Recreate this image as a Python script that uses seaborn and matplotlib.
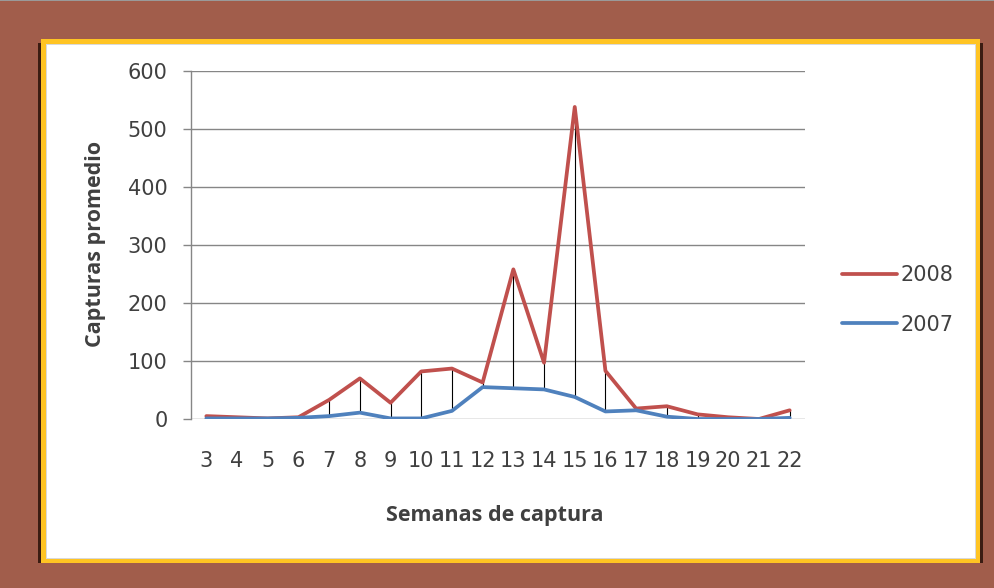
import numpy as np
import pandas as pd

import matplotlib as mpl
mpl.use('Agg')
import seaborn as sns
import matplotlib.pyplot as plt
from matplotlib.patches import Rectangle


weeks = [3, 4, 5, 6, 7, 8, 9, 10, 11, 12,
         13, 14, 15, 16, 17, 18, 19, 20, 21, 22]
capt_2008 = [5, 3, 1, 3, 33, 70, 28, 82, 87, 63,
             258, 97, 538, 83, 18, 22, 8, 3, 0, 15]
capt_2007 = [1, 1, 1, 2, 5, 11, 1, 1, 14, 55,
             53, 51, 38, 13, 15, 4, 0, 0, 0, 2]
years = ['2008', '2007']
year_colors = ['#C0504D', '#4F81BD']
ytick_vals = [0, 100, 200, 300, 400, 500, 600]

W, H = 995, 588
text_col = '#404040'
grid_col = '#868686'
num_font = ['DejaVu Sans']


def px_box(x0, y0, x1, y1):
    # pixel box (top-left origin) -> figure fraction rect
    return (x0 / W, 1 - y1 / H), (x1 - x0) / W, (y1 - y0) / H


def draw_frame(fig):
    fig.patch.set_facecolor('#A15D4B')
    for (x0, y0, x1, y1), col in [((0, 0, 995, 1), '#9a9a9a'),
                                  ((38, 43, 983, 563), '#3b1c12'),
                                  ((41, 39, 980, 563), '#FFC423'),
                                  ((46, 44, 976, 559), '#d9d9d9'),
                                  ((47, 45, 975, 558), 'white')]:
        xy, w, h = px_box(x0, y0, x1, y1)
        fig.patches.append(Rectangle(xy, w, h, transform=fig.transFigure,
                                     facecolor=col, edgecolor='none',
                                     zorder=-5))


def main():
    sns.set_style('white')
    plt.rcParams['font.family'] = ['Open Sans', 'DejaVu Sans']

    capt_df = pd.DataFrame({
        'week': weeks * 2,
        'captures': capt_2008 + capt_2007,
        'year': ['2008'] * len(weeks) + ['2007'] * len(weeks),
        })

    fig = plt.figure(figsize=(W / 100, H / 100), dpi=100)
    draw_frame(fig)

    (ax_l, ax_b), ax_w, ax_h = px_box(191, 71, 805, 419)
    ax = fig.add_axes([ax_l, ax_b, ax_w, ax_h])
    ax.set_facecolor('none')
    ax.set_zorder(2)

    # high-low lines between the two years
    ax.vlines(weeks, np.minimum(capt_2008, capt_2007),
              np.maximum(capt_2008, capt_2007),
              color='black', linewidth=0.8, zorder=1.5)

    sns.lineplot(data=capt_df, x='week', y='captures', hue='year',
                 hue_order=years, palette=year_colors, linewidth=2.7,
                 ax=ax, zorder=2)

    ax.set_xlim(weeks[0] - 0.5, weeks[-1] + 0.5)
    ax.set_ylim(0, 600)
    ax.set_xticks(weeks)
    ax.set_xticklabels([str(w) for w in weeks], family=num_font)
    ax.set_yticks(ytick_vals)
    ax.set_yticklabels([str(v) for v in ytick_vals], family=num_font)

    ax.grid(axis='y', color=grid_col, linewidth=1.0)
    ax.grid(axis='x', visible=False)
    for side in ['top', 'right', 'bottom']:
        ax.spines[side].set_visible(False)
    ax.spines['left'].set_color(grid_col)
    ax.spines['left'].set_linewidth(1.0)

    ax.tick_params(axis='x', length=0, pad=23, labelsize=15,
                   labelcolor=text_col)
    ax.tick_params(axis='y', length=6, width=1.0, color=grid_col,
                   direction='out', left=True, pad=11, labelsize=15,
                   labelcolor=text_col)

    ax.set_xlabel('Semanas de captura', size=15.5, weight='bold',
                  color=text_col, va='center')
    ax.set_ylabel('Capturas promedio', size=15.5, weight='bold',
                  color=text_col, va='center')
    ax.xaxis.set_label_coords((495 - 191) / 614, (419 - 515) / 348)
    ax.yaxis.set_label_coords((96 - 191) / 614, (419 - 244) / 348)

    handles, labels = ax.get_legend_handles_labels()
    ax.legend(handles, labels, loc='center left',
              bbox_to_anchor=(842 / W, 1 - 300 / H),
              bbox_transform=fig.transFigure, frameon=False,
              borderpad=0, borderaxespad=0, handlelength=2.65,
              handletextpad=0.15, labelspacing=1.4,
              prop={'family': num_font, 'size': 15},
              labelcolor=text_col)

    plt.savefig('out.png', dpi=100, facecolor=fig.get_facecolor())
    plt.close()


if __name__ == '__main__':
    main()
